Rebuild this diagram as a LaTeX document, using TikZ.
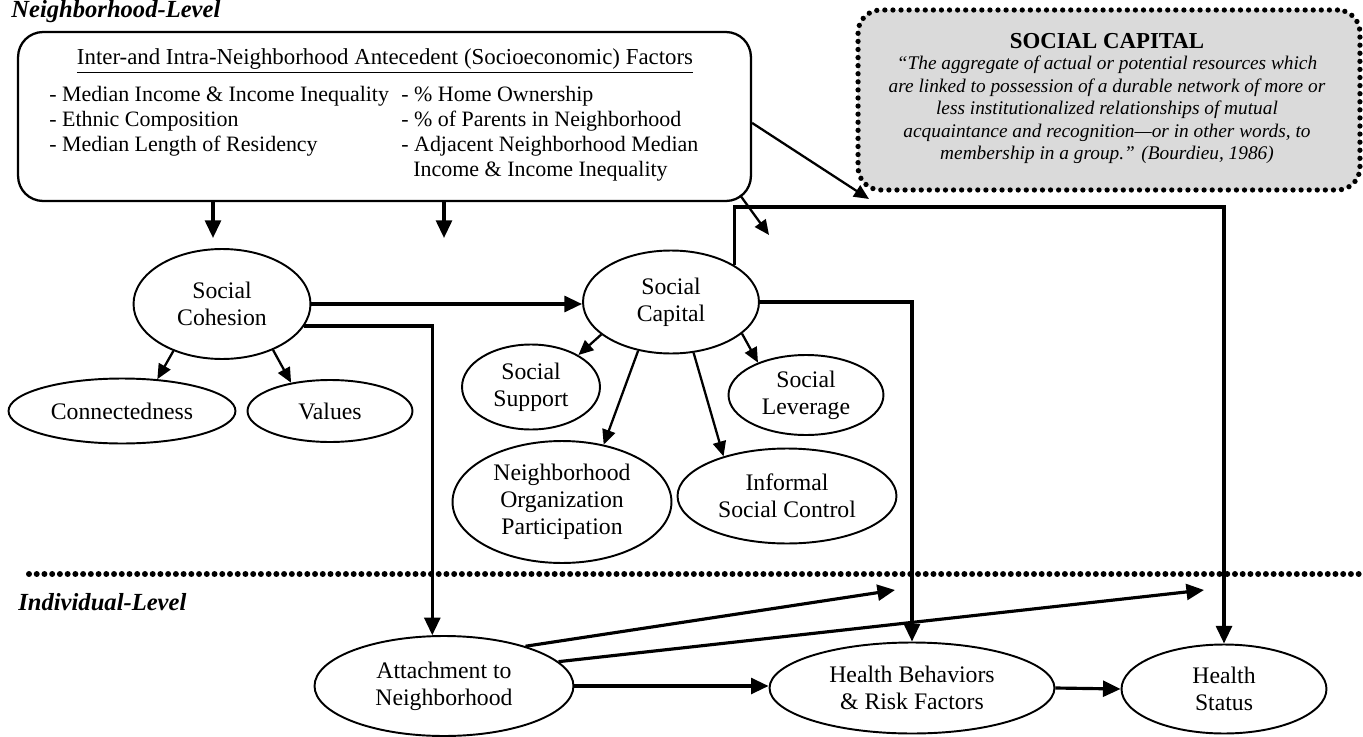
\documentclass[tikz,border=0pt]{standalone}
\usepackage{fontspec}
\setmainfont{Liberation Serif}
\usetikzlibrary{arrows.meta,shapes.geometric}
\definecolor{quotegray}{HTML}{DADADA}

\tikzset{
  bubble/.style={draw, ellipse, line width=1.1pt, align=center, inner sep=0pt,
    font=\fontsize{13.5}{15.5}\selectfont},
  flow/.style={-{Triangle[length=10pt,width=9pt]}, line width=1.8pt},
  thinflow/.style={-{Triangle[length=8.5pt,width=7.5pt]}, line width=1.3pt},
  listtxt/.style={anchor=west, inner sep=0pt, font=\fontsize{12.5}{14}\selectfont},
  leveltxt/.style={anchor=base west, inner sep=0pt, font=\fontsize{14}{16}\selectfont\bfseries\itshape},
  divider/.style={line width=3.4pt, line cap=round, dash pattern=on 0pt off 4.4pt},
}

\begin{document}
\begin{tikzpicture}[x=0.02cm, y=-0.02cm]
  \useasboundingbox (0,0) rectangle (1363,737);

  % --- Level labels ---
  \node[leveltxt] (nlevel) at (11,17)  {Neighborhood-Level};
  \node[leveltxt] (ilevel) at (18,610) {Individual-Level};

  % --- Antecedent factors box ---
  \node[draw, line width=1.3pt, rounded corners=0.5cm, minimum width=14.66cm, minimum height=3.38cm] (factors) at (384.5,116.5) {};
  \node[font=\fontsize{13}{15}\selectfont, inner sep=0pt] (ftitle) at (385,61)
    {\underline{Inter-and Intra-Neighborhood Antecedent (Socioeconomic) Factors}};
  \foreach \txt [count=\i] in {- Median Income \& Income Inequality, - Ethnic Composition, - Median Length of Residency}
    \node[listtxt] (lft\i) at (49,71+25*\i) {\txt};
  \foreach \txt [count=\i] in {- \% Home Ownership, - \% of Parents in Neighborhood, - Adjacent Neighborhood Median}
    \node[listtxt] (rgt\i) at (401,71+25*\i) {\txt};
  \node[listtxt] (rgt4) at (413,171) {Income \& Income Inequality};

  % --- Social capital definition ---
  \node[draw, line width=3pt, line cap=round, dash pattern=on 0pt off 4.6pt, rounded corners=0.45cm,
        fill=quotegray, minimum width=10.04cm, minimum height=3.6cm] (quote) at (1109,100) {};
  \node[font=\fontsize{13}{14}\selectfont\bfseries, inner sep=0pt] (qtitle) at (1107,41) {SOCIAL CAPITAL};
  \node[font=\fontsize{11}{12.8}\selectfont\itshape, align=center, inner sep=0pt] (qtext) at (1107,110)
    {``The aggregate of actual or potential resources which\\
     are linked to possession of a durable network of more or\\
     less institutionalized relationships of mutual\\
     acquaintance and recognition---or in other words, to\\
     membership in a group.'' (Bourdieu, 1986)};

  % --- Neighborhood-level constructs ---
  \node[bubble, minimum width=3.54cm, minimum height=2.2cm]  (cohesion) at (222,304) {Social\\Cohesion};
  \node[bubble, minimum width=3.52cm, minimum height=2.06cm] (capital)  at (671,302) {Social\\Capital};
  \node[bubble, minimum width=4.54cm, minimum height=1.3cm]  (connect)  at (122,411) {Connectedness};
  \node[bubble, minimum width=3.3cm,  minimum height=1.24cm] (values)   at (330,411) {Values};
  \node[bubble, minimum width=2.76cm, minimum height=1.7cm]  (support)  at (531,387) {Social\\Support};
  \node[bubble, minimum width=3.1cm,  minimum height=1.6cm]  (leverage) at (806,395) {Social\\Leverage};
  \node[bubble, minimum width=4.38cm, minimum height=2.44cm] (nop)      at (562,502) {Neighborhood\\Organization\\Participation};
  \node[bubble, minimum width=4.38cm, minimum height=1.9cm]  (isc)      at (787,496) {Informal\\Social Control};

  % --- Individual-level constructs ---
  \node[bubble, minimum width=5.18cm, minimum height=2.0cm]  (attach) at (444,686)  {Attachment to\\Neighborhood};
  \node[bubble, minimum width=5.7cm,  minimum height=1.82cm] (behav)  at (912,688)  {Health Behaviors\\\& Risk Factors};
  \node[bubble, minimum width=4.1cm,  minimum height=1.78cm] (status) at (1224,689) {Health\\Status};

  % --- Level divider ---
  \coordinate (divL) at (29,574);
  \coordinate (divR) at (1366,574);
  \draw[divider] (divL) -- (divR);

  % --- Arrows out of the factors box ---
  \coordinate (fdown1) at (213,238);
  \coordinate (fdown2) at (444,238);
  \coordinate (fdiag)  at (769,235);
  \coordinate (qtip)   at (869,199);
  \draw[flow] (factors.south -| fdown1) -- (fdown1);
  \draw[flow] (factors.south -| fdown2) -- (fdown2);
  \draw[thinflow] ([shift={(-12,-7)}]factors.south east) -- (fdiag);
  \draw[thinflow] (factors.-1.6) -- (qtip);

  % --- Cohesion links ---
  \draw[thinflow] (cohesion.224) -- (connect.42);
  \draw[thinflow] (cohesion.-42) -- (values.144);
  \draw[flow] (cohesion.east) -- (cohesion.east -| capital.west);
  \draw[flow] (cohesion.-15) -| (attach.103);

  % --- Capital links ---
  \draw[thinflow] (capital.205) -- (support.34);
  \draw[thinflow] (capital.236) -- (nop.54);
  \draw[thinflow] (capital.-66) -- (isc.148);
  \draw[thinflow] (capital.-24) -- (leverage.146);
  \coordinate (crossbar) at (1224,207);
  \draw[flow] (capital.30) |- (crossbar) -| (status.north);
  \draw[flow] (capital.east) -| (behav.north);

  % --- Individual-level links ---
  \coordinate (out1) at (895,590);
  \coordinate (out2) at (1204,590);
  \draw[flow] (attach.east) -- (attach.east -| behav.west);
  \draw[flow] (behav.east) -- (status.west);
  \draw[flow] (attach.26) -- (out1);
  \draw[flow] (attach.12) -- (out2);
\end{tikzpicture}
\end{document}
